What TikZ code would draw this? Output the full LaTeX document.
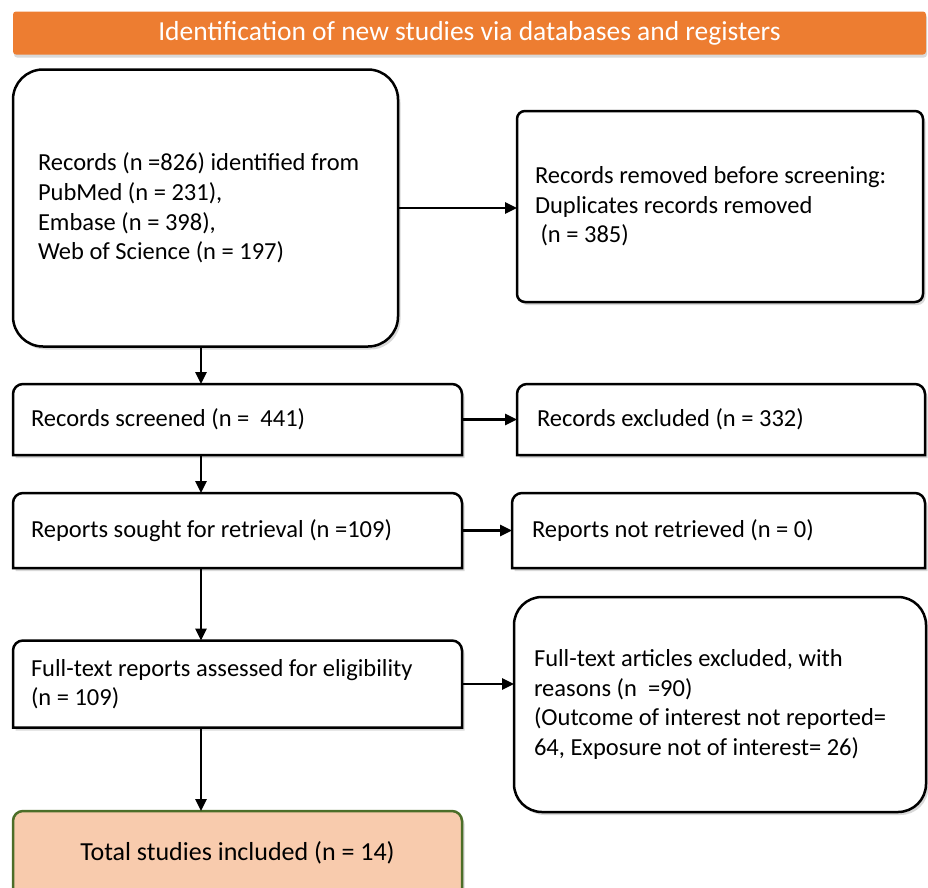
\documentclass[tikz,border=0pt]{standalone}
\usepackage{fontspec}
\setmainfont{Carlito}
\usetikzlibrary{calc, positioning, arrows.meta, shadows, backgrounds}
\definecolor{hdorange}{RGB}{237,125,49}
\definecolor{incpeach}{RGB}{248,203,173}
\definecolor{incgreen}{RGB}{76,110,40}
\newcommand{\tabframe}[2][]{%
  \draw[frame, #1] (#2.south west) -- ([yshift=-10pt]#2.north west)
    arc[start angle=180, end angle=90, radius=10pt] -- ([xshift=-10pt]#2.north east)
    arc[start angle=90, end angle=0, radius=10pt] -- (#2.south east) -- cycle;}

\begin{document}
\begin{tikzpicture}[x=1pt, y=-1pt,
  box/.style={outer sep=0pt, inner ysep=0pt, align=flush left,
    font=\fontsize{24.5}{29.6}\selectfont},
  frame/.style={line width=2.5pt, fill=white,
    drop shadow={shadow xshift=2.5pt, shadow yshift=-3pt, opacity=0.3}},
  arrow/.style={-{Triangle[length=12pt, width=11pt]}, line width=2.6pt}
]
\useasboundingbox (0,0) rectangle (928,887);

\node[fill=hdorange, text=white, font=\fontsize{27.5}{30}\selectfont, outer sep=0pt,
  minimum width=913pt, minimum height=43pt, rounded corners=3pt,
  drop shadow={shadow xshift=1pt, shadow yshift=-3pt, opacity=0.3}] (head) at (469.5,33)
  {Identification of new studies via databases and registers};

\node[box, frame, draw, rounded corners=30pt, text width=335pt, inner xsep=25pt,
  minimum height=277pt] (rec) at (205.5,208)
  {Records (n =826) identified from\\PubMed (n = 231),\\Embase (n = 398),\\Web of Science (n = 197)};
\node[box, frame, draw, rounded corners=8pt, text width=370pt, inner xsep=18pt,
  minimum height=191pt] (dup) at (720,206.5)
  {Records removed before screening:\\Duplicates records removed\\\ (n = 385)};

\node[box, text width=413pt, inner xsep=18pt, minimum height=71pt] (scr) at (237.5,419.5)
  {Records screened (n = \ 441)};
\node[box, text width=368pt, inner xsep=20pt, minimum height=71pt] (exc) at (721,419.5)
  {Records excluded (n = 332)};
\node[box, text width=413pt, inner xsep=18pt, minimum height=75pt] (rep) at (237.5,530.5)
  {Reports sought for retrieval (n =109)};
\node[box, text width=373pt, inner xsep=20pt, minimum height=75pt] (nret) at (718.5,530.5)
  {Reports not retrieved (n = 0)};
\node[box, text width=413pt, inner xsep=18pt, minimum height=87pt] (elig) at (237.5,684)
  {Full-text reports assessed for eligibility\\(n = 109)};
\node[box, frame, draw, rounded corners=28pt, text width=372pt, inner xsep=20pt,
  minimum height=215pt] (ftx) at (720,704.5)
  {Full-text articles excluded, with\\reasons (n \ =90)\\(Outcome of interest not reported=\\64, Exposure not of interest= 26)};
\node[box, align=center, font=\fontsize{26}{30}\selectfont, minimum width=449pt,
  minimum height=84pt] (inc) at (237.5,853)
  {Total studies included (n = 14)};

\begin{scope}[on background layer]
\tabframe{scr}
\tabframe{exc}
\tabframe{rep}
\tabframe{nret}
\tabframe{elig}
\tabframe[fill=incpeach, draw=incgreen]{inc}
\end{scope}

\coordinate (spine) at (201,0);
\draw[arrow] (rec.east) -- (rec.east -| dup.west);
\draw[arrow] (rec.south -| spine) -- (scr.north -| spine);
\draw[arrow] (scr.east) -- (scr.east -| exc.west);
\draw[arrow] (scr.south -| spine) -- (rep.north -| spine);
\draw[arrow] (rep.east) -- (rep.east -| nret.west);
\draw[arrow] (rep.south -| spine) -- (elig.north -| spine);
\draw[arrow] (elig.east) -- (elig.east -| ftx.west);
\draw[arrow] (elig.south -| spine) -- (inc.north -| spine);
\end{tikzpicture}
\end{document}
